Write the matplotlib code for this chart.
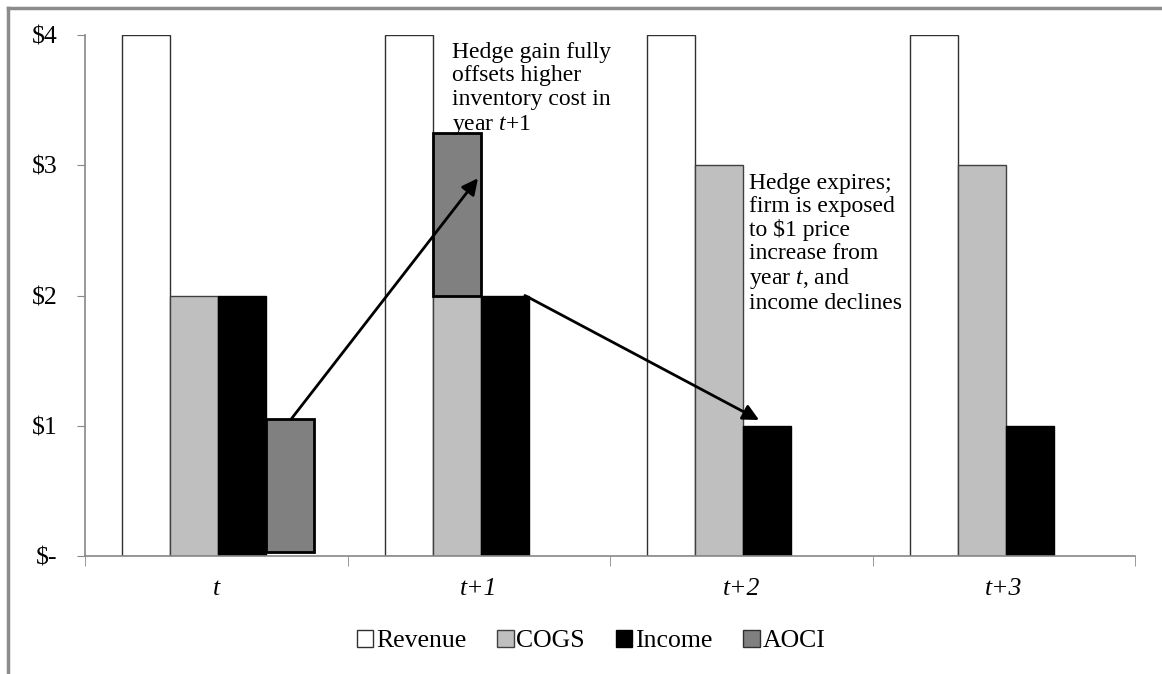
import matplotlib
matplotlib.use("Agg")
import matplotlib.pyplot as plt
from matplotlib.lines import Line2D
from matplotlib.patches import Patch

plt.rcParams["font.family"] = ["Liberation Serif", "DejaVu Serif"]
plt.rcParams["mathtext.fontset"] = "custom"
plt.rcParams["mathtext.rm"] = "Liberation Serif"
plt.rcParams["mathtext.it"] = "Liberation Serif:italic"

# data
periods = ["t", "t+1", "t+2", "t+3"]
revenue = [4, 4, 4, 4]
cogs = [2, 2, 3, 3]
income = [2, 2, 1, 1]
aoci_bottom = [0.03, 2.0]
aoci_height = [1.02, 1.25]
aoci_slot = [3, 1]          # slot in the group where the AOCI box sits
y_ticks = [0, 1, 2, 3, 4]
y_labels = ["$-", "$1", "$2", "$3", "$4"]

W, H = 1162, 674
fig = plt.figure(figsize=(W / 100, H / 100), dpi=100)
ax = fig.add_axes([85 / W, (H - 556) / H, (1135 - 85) / W, (556 - 35) / H])

bw = 48 / 262.5
x0 = 37 / 262.5

def slot_x(i, s):
    return i + x0 + bw * (s + 0.5)

idx = range(len(periods))
ax.bar([slot_x(i, 0) for i in idx], revenue, bw, color="white",
       edgecolor="#303030", linewidth=1)
ax.bar([slot_x(i, 1) for i in idx], cogs, bw, color="#bfbfbf",
       edgecolor="#404040", linewidth=1)
ax.bar([slot_x(i, 2) for i in idx], income, bw, color="black",
       edgecolor="black", linewidth=1)
ax.bar([slot_x(i, s) for i, s in enumerate(aoci_slot)], aoci_height, bw,
       bottom=aoci_bottom, color="#808080", edgecolor="black", linewidth=2)

ax.set_xlim(0, len(periods))
ax.set_ylim(0, 4)

ax.set_yticks(y_ticks)
ax.set_yticklabels(y_labels, fontsize=18.5)
ax.tick_params(axis="y", length=6, color="#888888", pad=14)

ax.set_xticks([i + 0.5 for i in idx])
ax.set_xticklabels(periods, fontsize=18.5, fontstyle="italic")
ax.set_xticks(range(len(periods) + 1), minor=True)
ax.tick_params(axis="x", which="major", length=0, pad=16)
ax.tick_params(axis="x", which="minor", length=7, color="#888888")

for side in ["top", "right"]:
    ax.spines[side].set_visible(False)
for side in ["left", "bottom"]:
    ax.spines[side].set_color("#888888")
    ax.spines[side].set_linewidth(1.2)

# arrows
arrow = dict(arrowstyle="-|>", color="black", lw=2, mutation_scale=24,
             shrinkA=0, shrinkB=0)
ax.annotate("", xy=(1.497, 2.90), xytext=(0.785, 1.05), arrowprops=arrow)
ax.annotate("", xy=(2.568, 1.044), xytext=(1.676, 2.0), arrowprops=arrow)

ax.text(1.398, 3.95,
        "Hedge gain fully\noffsets higher\ninventory cost in\n"
        r"year $\mathit{t{+}1}$",
        fontsize=17, va="top", ha="left", linespacing=1.17)
ax.text(2.53, 2.94,
        "Hedge expires;\nfirm is exposed\n" r"to \$1 price" "\nincrease from\n"
        r"year $\mathit{t}$, and" "\nincome declines",
        fontsize=17, va="top", ha="left", linespacing=1.12)

handles = [Patch(facecolor=c, edgecolor=e, linewidth=1)
           for c, e in [("white", "#303030"), ("#bfbfbf", "#404040"),
                        ("black", "black"), ("#808080", "#303030")]]
fig.legend(handles, ["Revenue", "COGS", "Income", "AOCI"], ncol=4,
           loc="center", bbox_to_anchor=(591 / W, 1 - 641 / H),
           frameon=False, fontsize=18.5, handlelength=0.65, handleheight=0.65,
           handletextpad=0.1, columnspacing=1.2)

# outer frame (cut off chart border)
fig.add_artist(Line2D([8 / W, 8 / W], [0, 1 - 8 / H], color="#8c8c8c",
                      lw=2.5, transform=fig.transFigure))
fig.add_artist(Line2D([8 / W, 1], [1 - 8 / H, 1 - 8 / H], color="#8c8c8c",
                      lw=2.5, transform=fig.transFigure))

fig.savefig("out.png", dpi=100)
